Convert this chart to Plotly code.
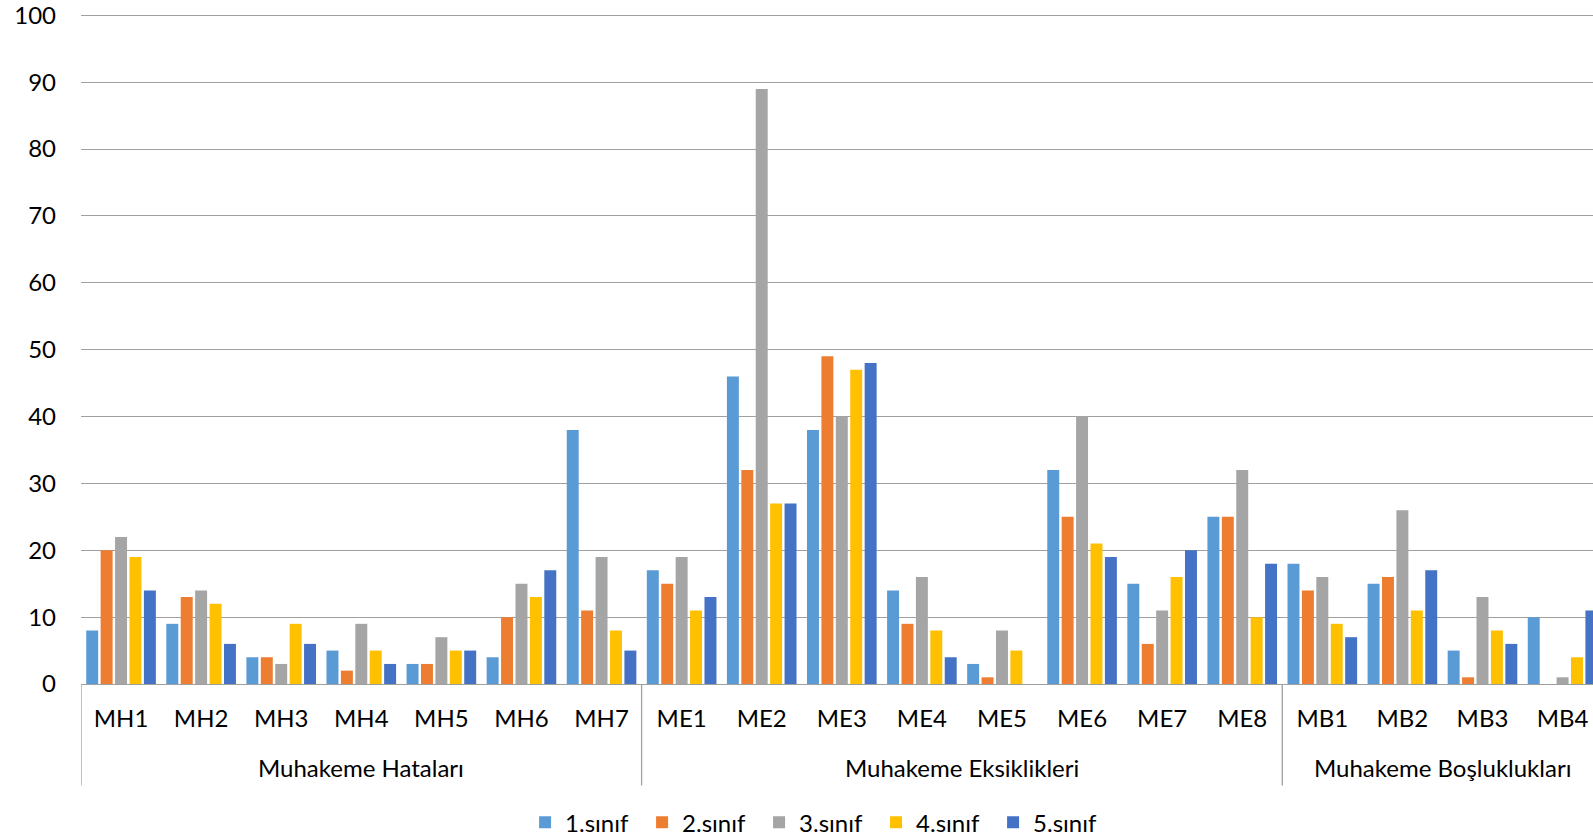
import plotly.graph_objects as go

groups = ["Muhakeme Hataları"] * 7 + ["Muhakeme Eksiklikleri"] * 8 + ["Muhakeme Boşluklukları"] * 4
categories = ["MH1", "MH2", "MH3", "MH4", "MH5", "MH6", "MH7",
              "ME1", "ME2", "ME3", "ME4", "ME5", "ME6", "ME7", "ME8",
              "MB1", "MB2", "MB3", "MB4"]

sinif1 = [8, 9, 4, 5, 3, 4, 38, 17, 46, 38, 14, 3, 32, 15, 25, 18, 15, 5, 10]
sinif2 = [20, 13, 4, 2, 3, 10, 11, 15, 32, 49, 9, 1, 25, 6, 25, 14, 16, 1, 0]
sinif3 = [22, 14, 3, 9, 7, 15, 19, 19, 89, 40, 16, 8, 40, 11, 32, 16, 26, 13, 1]
sinif4 = [19, 12, 9, 5, 5, 13, 8, 11, 27, 47, 8, 5, 21, 16, 10, 9, 11, 8, 4]
sinif5 = [14, 6, 6, 3, 5, 17, 5, 13, 27, 48, 4, 0, 19, 20, 18, 7, 17, 6, 11]

series_names = ["1.sınıf", "2.sınıf", "3.sınıf", "4.sınıf", "5.sınıf"]
series_values = [sinif1, sinif2, sinif3, sinif4, sinif5]
colors = ["#5B9BD5", "#ED7D31", "#A5A5A5", "#FFC000", "#4472C4"]

y_ticks = [0, 10, 20, 30, 40, 50, 60, 70, 80, 90, 100]

FONT = "Lato, Calibri, Carlito, sans-serif"
FS = 24
GRID = "#A0A0A0"

fig = go.Figure()
for name, vals, col in zip(series_names, series_values, colors):
    fig.add_trace(go.Bar(
        x=categories, y=vals, name=name,
        marker=dict(color=col, line=dict(width=0)),
    ))

# group labels and dividers computed from the group list
group_order = []
for g in groups:
    if g not in group_order:
        group_order.append(g)
start = 0
boundaries = [-0.5]
for g in group_order:
    n = groups.count(g)
    center = start + (n - 1) / 2
    fig.add_annotation(
        x=center, xref="x", y=-0.1246, yref="paper",
        text=g, showarrow=False, xanchor="center", yanchor="middle",
        font=dict(family=FONT, size=FS, color="#000000"),
    )
    start += n
    boundaries.append(start - 0.5)
for b in boundaries:
    fig.add_shape(
        type="line", xref="x", yref="paper", x0=b, x1=b, y0=0, y1=-0.1515,
        line=dict(color=GRID, width=1.3), layer="above",
    )

fig.update_layout(
    width=1593, height=839,
    paper_bgcolor="white", plot_bgcolor="white",
    barmode="group", bargap=0.1, bargroupgap=0.17,
    margin=dict(l=81, r=0, t=14, b=155, autoexpand=False),
    font=dict(family=FONT, size=FS, color="#000000"),
    showlegend=True,
    legend=dict(orientation="h", x=0.2937, xanchor="left", y=-0.207, yanchor="middle",
                font=dict(family=FONT, size=FS, color="#000000"),
                itemwidth=30, traceorder="normal", entrywidth=72),
)
fig.update_xaxes(
    type="category",
    range=[-0.5, 18.38],
    automargin=False,
    showgrid=False,
    showline=True, linecolor=GRID, linewidth=1.3,
    ticks="",
    ticklabelstandoff=13,
    ticklabeloverflow="allow",
    tickfont=dict(family=FONT, size=FS, color="#000000"),
)
fig.update_yaxes(
    range=[0, 100.2],
    automargin=False,
    tickvals=y_ticks,
    showgrid=True, gridcolor=GRID, gridwidth=1.3,
    zeroline=False, showline=False, ticks="",
    ticklabelstandoff=24,
    ticklabeloverflow="allow",
    tickfont=dict(family=FONT, size=FS, color="#000000"),
)

fig.write_html(
    "out.html",
    config={"displayModeBar": False},
    post_script="document.body.style.margin='0';document.body.style.overflow='hidden';",
)
